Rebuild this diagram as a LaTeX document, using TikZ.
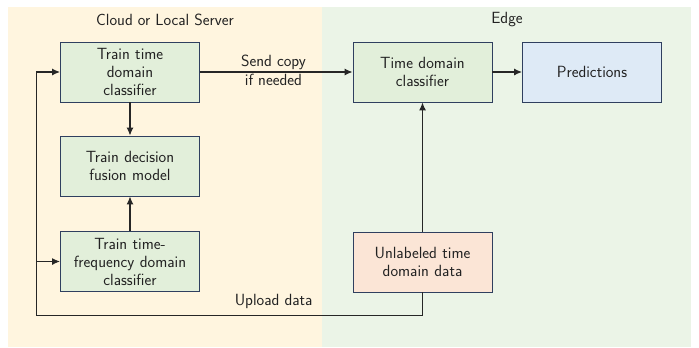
\documentclass[tikz,border=0pt]{standalone}
\usetikzlibrary{arrows.meta}
\definecolor{cloudbg}{HTML}{FFF5DF}
\definecolor{edgebg}{HTML}{EBF4E7}
\definecolor{boxgreen}{HTML}{E2EFDA}
\definecolor{boxpink}{HTML}{FBE5D6}
\definecolor{boxblue}{HTML}{DEEAF6}
\definecolor{boxline}{HTML}{2F3F5F}
\definecolor{txt}{HTML}{222222}
\begin{document}
\begin{tikzpicture}[x=1pt,y=-1pt,
  font=\sffamily\fontsize{16.2}{18}\selectfont,
  procbox/.style={draw=boxline, line width=0.9pt, minimum width=139pt, minimum height=60pt, align=center, text width=135pt, text=txt, inner sep=0pt},
  conn/.style={line width=1.1pt, draw=black!85, -{Latex[length=8pt,width=7pt]}},
  plain/.style={line width=1.1pt, draw=black!85},
  lbl/.style={text=txt, align=center}]
\useasboundingbox (0,0) rectangle (699,348);
\fill[cloudbg] (8,7) rectangle (322,347);
\fill[edgebg] (322,7) rectangle (691,347);
\node[lbl] (cloudt) at (165,20) {Cloud or Local Server};
\node[lbl] (edget) at (507,20) {Edge};
\node[procbox, fill=boxgreen] (ttd) at (130,72) {Train time\\domain\\classifier};
\node[procbox, fill=boxgreen] (tdf) at (130,166) {Train decision\\fusion model};
\node[procbox, fill=boxgreen] (ttf) at (130,261.5) {Train time-\\frequency domain\\classifier};
\node[procbox, fill=boxgreen] (tdc) at (422.5,72) {Time domain\\classifier};
\node[procbox, fill=boxblue] (pred) at (592,72) {Predictions};
\node[procbox, fill=boxpink] (unl) at (422.5,262) {Unlabeled time\\domain data};
\coordinate (lc) at (36.7,315.7);
\coordinate (rc) at (422.5,315.7);
\draw[conn] (ttd) -- (tdc);
\node[lbl, font=\sffamily\fontsize{16.2}{19.5}\selectfont] (send) at (273.5,70.5) {Send copy\\if needed};
\draw[conn] (tdc) -- (pred);
\draw[conn] (ttd) -- (tdf);
\draw[conn] (ttf) -- (tdf);
\draw[conn] (unl) -- (tdc);
\draw[plain] (unl) -- (rc) -- (lc);
\draw[conn] (lc) |- (ttd.west);
\draw[conn] (lc |- ttf.west) -- (ttf.west);
\node[lbl, anchor=south east] (up) at (316,312) {Upload data};
\end{tikzpicture}
\end{document}
